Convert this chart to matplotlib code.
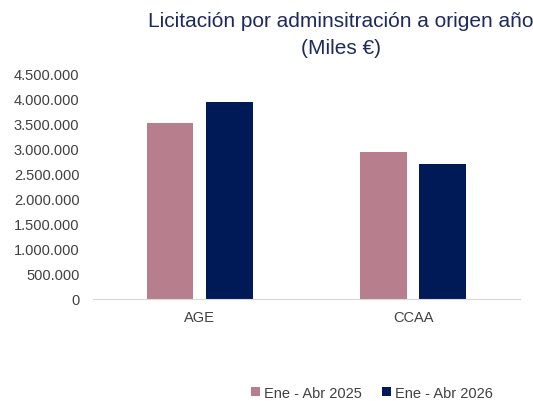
import matplotlib.pyplot as plt
import numpy as np
from matplotlib.ticker import FuncFormatter

plt.rcParams['font.family'] = ['Liberation Sans', 'DejaVu Sans']

categories = ["AGE", "CCAA"]
labels = ["Ene - Abr 2025", "Ene - Abr 2026"]
v2025 = [3520000, 2940000]
v2026 = [3940000, 2700000]
colors = ["#B77F8E", "#001A57"]

fig = plt.figure(figsize=(5.33, 4.02), dpi=100)
ax = fig.add_axes([0.175, 0.254, 0.80, 0.56])

x = np.arange(len(categories))
w = 0.22
gap = 0.06
ax.bar(x - (w + gap) / 2, v2025, w, color=colors[0], label=labels[0])
ax.bar(x + (w + gap) / 2, v2026, w, color=colors[1], label=labels[1])

ax.set_xlim(-0.5, 1.5)
ax.set_ylim(0, 4500000)
ax.set_yticks(np.arange(0, 4500001, 500000))
ax.yaxis.set_major_formatter(FuncFormatter(lambda v, p: f"{int(v):,}".replace(",", ".")))
ax.set_xticks(x)
ax.set_xticklabels(categories)

for s in ["top", "right", "left"]:
    ax.spines[s].set_visible(False)
ax.spines["bottom"].set_color("#D9D9D9")
ax.tick_params(axis="y", length=0, labelsize=10.5, labelcolor="#404040", pad=10)
ax.tick_params(axis="x", length=0, labelsize=10.5, labelcolor="#404040", pad=8)

fig.text(0.64, 0.97, "Licitación por adminsitración a origen año\n(Miles €)",
         ha="center", va="top", fontsize=15, color="#1F2A5C", linespacing=1.5)

fig.legend(loc="lower right", bbox_to_anchor=(0.95, -0.03), ncol=2, frameon=False,
           fontsize=10.5, handlelength=0.6, handleheight=0.6, handletextpad=0.3,
           columnspacing=1.4, labelcolor="#404040")

fig.savefig("out.png", dpi=100)
